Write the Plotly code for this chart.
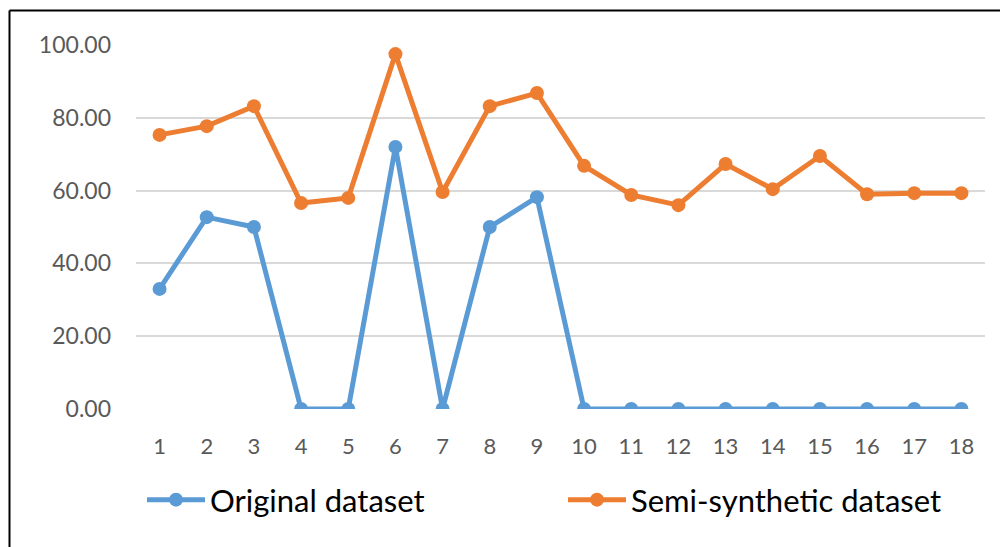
import plotly.graph_objects as go

categories = [str(i) for i in range(1, 19)]
original = [33.0, 52.7, 50.0, 0, 0, 72.0, 0, 50.0, 58.2, 0, 0, 0, 0, 0, 0, 0, 0, 0]
semi_synthetic = [75.3, 77.7, 83.2, 56.6, 58.0, 97.5, 59.6, 83.2, 86.8, 66.8,
                  58.8, 56.0, 67.3, 60.4, 69.5, 59.0, 59.3, 59.3]
y_ticks = [0, 20, 40, 60, 80, 100]

BLUE = "#5B9BD5"
ORANGE = "#ED7D31"
FONT = "Lato, 'Open Sans', sans-serif"

fig = go.Figure()
fig.add_trace(go.Scatter(x=categories, y=original, name="Original dataset",
                         mode="lines+markers",
                         line=dict(color=BLUE, width=5),
                         marker=dict(color=BLUE, size=14)))
fig.add_trace(go.Scatter(x=categories, y=semi_synthetic, name="Semi-synthetic dataset",
                         mode="lines+markers",
                         line=dict(color=ORANGE, width=5),
                         marker=dict(color=ORANGE, size=14)))

# page body has an 8px margin, so the figure is drawn at (8, 8)
OFF = 8
W, H = 1008 - OFF, 547 - OFF
L, R, T, B = 136 - OFF, 23, 45 - OFF, 138
pw = W - L - R
ph = H - T - B

def px(x):
    return (x - OFF - L) / pw

def py(y):
    return (H - B - (y - OFF)) / ph

fig.update_layout(
    width=W, height=H,
    margin=dict(l=L, r=R, t=T, b=B, autoexpand=False),
    paper_bgcolor="white", plot_bgcolor="white",
    font=dict(family=FONT, color="#595959", size=22),
    showlegend=True,
    legend=dict(orientation="h", x=px(142), y=py(500), xanchor="left", yanchor="middle",
                font=dict(size=31, color="#000000", family=FONT),
                entrywidth=348, entrywidthmode="pixels", itemwidth=58,
                bgcolor="rgba(0,0,0,0)"),
    shapes=[
        dict(type="line", xref="paper", yref="paper", x0=px(9.5), x1=px(1012),
             y0=py(10.5), y1=py(10.5), line=dict(color="black", width=2)),
        dict(type="line", xref="paper", yref="paper", x0=px(9.5), x1=px(9.5),
             y0=py(10.5), y1=py(560), line=dict(color="black", width=2)),
    ],
)
fig.update_xaxes(type="category", range=[-0.5, 17.5], showgrid=False, showline=False,
                 zeroline=False, ticks="", ticklabelstandoff=22, automargin=False,
                 tickfont=dict(size=22, color="#595959"))
fig.update_yaxes(range=[0, 100], tickvals=y_ticks, tickformat=".2f",
                 showgrid=True, gridcolor="#D9D9D9", gridwidth=2, automargin=False,
                 zeroline=False, showline=False, ticks="", ticklabelstandoff=24,
                 tickfont=dict(size=23, color="#595959"))

fig.write_html("out.html")
